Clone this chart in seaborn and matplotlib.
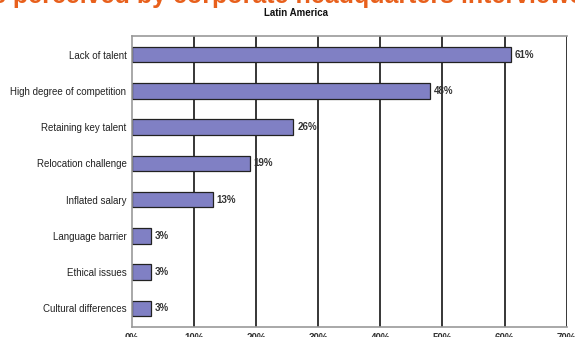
import matplotlib
matplotlib.use("Agg")
import matplotlib.pyplot as plt
import seaborn as sns
import pandas as pd
import numpy as np

categories = ["Lack of talent", "High degree of competition", "Retaining key talent",
              "Relocation challenge", "Inflated salary", "Language barrier",
              "Ethical issues", "Cultural differences"]
values = [61, 48, 26, 19, 13, 3, 3, 3]
value_labels = ["61%", "48%", "26%", "19%", "13%", "3%", "3%", "3%"]
xtick_values = [0, 10, 20, 30, 40, 50, 60, 70]
xtick_labels = ["0%", "10%", "20%", "30%", "40%", "50%", "60%", "70%"]

sns.set_style("white")
plt.rcParams['font.family'] = ['Liberation Sans', 'DejaVu Sans']

df = pd.DataFrame({"category": categories, "value": values})

fig = plt.figure(figsize=(5.75, 3.37), dpi=100)
ax = fig.add_axes([0.2296, 0.031, 0.7558, 0.861])

sns.barplot(data=df, y="category", x="value", orient="h", color="#8080C4",
            saturation=1, edgecolor="#222222", linewidth=0.9, width=0.43, ax=ax)

ax.set_xlim(0, 70)
ax.set_ylim(7.5, -0.5)
ax.set_xticks(xtick_values)
ax.set_xticklabels(xtick_labels, fontsize=7, color="#333333", fontweight="bold")
for xv in xtick_values[1:]:
    ax.axvline(xv, color="black", lw=1.1, zorder=0)

ax.set_yticks(range(len(categories)))
ax.set_yticklabels(categories, fontsize=7, color="#222222")
ax.tick_params(axis="y", length=0, pad=4)
ax.set_yticks(np.arange(-0.5, len(categories), 1.0), minor=True)
ax.tick_params(axis="y", which="minor", length=3.5, color="#888888", width=0.8)
ax.tick_params(axis="x", length=3.5, color="#444444", width=1, pad=1.5, direction="out")
ax.set_xlabel("")
ax.set_ylabel("")

for s in ["top", "left", "bottom"]:
    ax.spines[s].set_visible(True)
    ax.spines[s].set_color("#999999")
    ax.spines[s].set_linewidth(1.2)
ax.spines["right"].set_visible(False)

for i, (v, lab) in enumerate(zip(values, value_labels)):
    ax.text(v + 0.6, i, lab, va="center", ha="left", fontsize=7,
            fontweight="bold", color="#333333")

fig.text(0.515, 1 - 13 / 337, "Latin America", ha="center", va="center",
         fontsize=7, fontweight="bold", color="#111111")
fig.text(0.5, 1 - 2.5 / 337, "s perceived by corporate headquarters interviewe",
         ha="center", va="baseline", fontsize=18, fontweight="bold", color="#E8601C")

fig.savefig("out.png", dpi=100)
